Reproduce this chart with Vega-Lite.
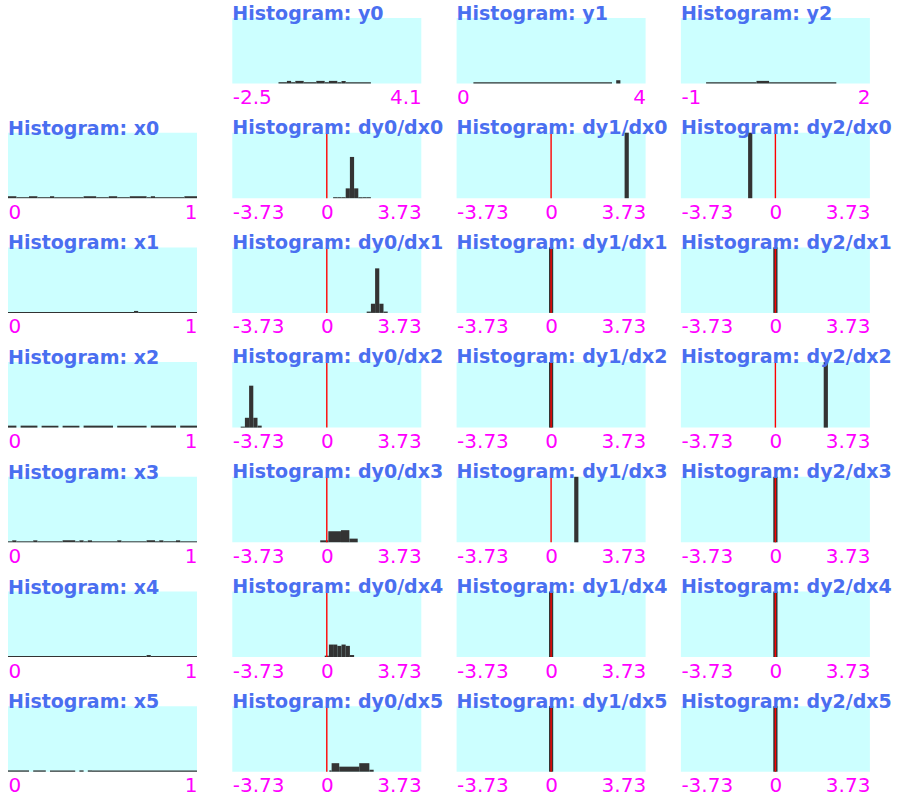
{
"$schema": "https://vega.github.io/schema/vega-lite/v6.json",
"background": "white",
"padding": {"left": 8, "top": 5, "right": 0, "bottom": 0},
"config": {
  "view": {"fill": "#ccffff", "stroke": null, "continuousWidth": 189, "continuousHeight": 65.5},
  "axis": {"domain": false, "ticks": false, "tickSize": 0, "grid": false, "labelFont": "DejaVu Sans", "labelFontSize": 20, "labelColor": "#ff00ff", "labelFlush": true, "labelOverlap": false, "labelPadding": 4, "labelBound": false},
  "title": {"anchor": "start", "frame": "group", "font": "DejaVu Sans", "fontSize": 19, "fontWeight": "bold", "color": "#4a6ff0", "baseline": "alphabetic", "offset": 0, "dy": 10}
},
"datasets": {"h": [
{"p":"y0","a":-0.8867,"b":-0.5933,"f":0.02},{"p":"y0","a":-0.5933,"b":-0.4467,"f":0.04},{"p":"y0","a":-0.4467,"b":-0.3,"f":0.02},{"p":"y0","a":-0.3,"b":-0.0067,"f":0.04},{"p":"y0","a":-0.0067,"b":0.4333,"f":0.02},{"p":"y0","a":0.4333,"b":0.7267,"f":0.04},{"p":"y0","a":0.7267,"b":0.8733,"f":0.02},{"p":"y0","a":0.8733,"b":1.1667,"f":0.04},{"p":"y0","a":1.1667,"b":1.3133,"f":0.02},{"p":"y0","a":1.3133,"b":1.46,"f":0.04},{"p":"y0","a":1.46,"b":2.34,"f":0.02},
{"p":"y1","a":0.3556,"b":3.2889,"f":0.02},{"p":"y1","a":3.3778,"b":3.4667,"f":0.05},
{"p":"y2","a":-0.6,"b":0.2,"f":0.02},{"p":"y2","a":0.2,"b":0.4,"f":0.04},{"p":"y2","a":0.4,"b":1.4667,"f":0.02},
{"p":"x0","a":0,"b":0.0444,"f":0.03},{"p":"x0","a":0.0444,"b":0.1111,"f":0.015},{"p":"x0","a":0.1111,"b":0.1556,"f":0.03},{"p":"x0","a":0.1556,"b":0.2222,"f":0.015},{"p":"x0","a":0.2222,"b":0.2444,"f":0.03},{"p":"x0","a":0.2444,"b":0.4,"f":0.015},{"p":"x0","a":0.4,"b":0.4667,"f":0.03},{"p":"x0","a":0.4667,"b":0.5333,"f":0.015},{"p":"x0","a":0.5333,"b":0.5778,"f":0.03},{"p":"x0","a":0.5778,"b":0.6444,"f":0.015},{"p":"x0","a":0.6444,"b":0.7333,"f":0.03},{"p":"x0","a":0.7333,"b":0.7556,"f":0.015},{"p":"x0","a":0.7556,"b":0.7778,"f":0.03},{"p":"x0","a":0.7778,"b":0.9333,"f":0.015},{"p":"x0","a":0.9333,"b":1,"f":0.03},
{"p":"x1","a":0,"b":0.6667,"f":0.015},{"p":"x1","a":0.6667,"b":0.6889,"f":0.03},{"p":"x1","a":0.6889,"b":1,"f":0.015},
{"p":"x2","a":0,"b":0.0444,"f":0.03},{"p":"x2","a":0.0667,"b":0.1556,"f":0.03},{"p":"x2","a":0.1778,"b":0.2667,"f":0.03},{"p":"x2","a":0.2889,"b":0.3778,"f":0.03},{"p":"x2","a":0.4,"b":0.5556,"f":0.03},{"p":"x2","a":0.5778,"b":0.7333,"f":0.03},{"p":"x2","a":0.7556,"b":0.8889,"f":0.03},{"p":"x2","a":0.9111,"b":1,"f":0.03},
{"p":"x3","a":0,"b":0.0222,"f":0.015},{"p":"x3","a":0.0222,"b":0.0444,"f":0.03},{"p":"x3","a":0.0444,"b":0.1333,"f":0.015},{"p":"x3","a":0.1333,"b":0.1556,"f":0.03},{"p":"x3","a":0.1556,"b":0.2889,"f":0.015},{"p":"x3","a":0.2889,"b":0.3556,"f":0.03},{"p":"x3","a":0.3556,"b":0.3778,"f":0.015},{"p":"x3","a":0.3778,"b":0.4,"f":0.03},{"p":"x3","a":0.4,"b":0.4222,"f":0.015},{"p":"x3","a":0.4222,"b":0.4444,"f":0.03},{"p":"x3","a":0.4444,"b":0.5778,"f":0.015},{"p":"x3","a":0.5778,"b":0.6,"f":0.03},{"p":"x3","a":0.6,"b":0.7333,"f":0.015},{"p":"x3","a":0.7333,"b":0.7778,"f":0.03},{"p":"x3","a":0.7778,"b":0.8,"f":0.015},{"p":"x3","a":0.8,"b":0.8222,"f":0.03},{"p":"x3","a":0.8222,"b":0.8889,"f":0.015},{"p":"x3","a":0.8889,"b":0.9111,"f":0.03},{"p":"x3","a":0.9111,"b":1,"f":0.015},
{"p":"x4","a":0,"b":0.7333,"f":0.015},{"p":"x4","a":0.7333,"b":0.7556,"f":0.03},{"p":"x4","a":0.7556,"b":1,"f":0.015},
{"p":"x5","a":0,"b":0.1111,"f":0.02},{"p":"x5","a":0.1333,"b":0.2,"f":0.02},{"p":"x5","a":0.2222,"b":0.3556,"f":0.02},{"p":"x5","a":0.3778,"b":0.4,"f":0.02},{"p":"x5","a":0.4222,"b":0.4444,"f":0.02},{"p":"x5","a":0.4444,"b":1,"f":0.02},
{"p":"dy0/dx0","a":0.2487,"b":0.4144,"f":0.015},{"p":"dy0/dx0","a":0.4144,"b":0.5802,"f":0.015},{"p":"dy0/dx0","a":0.5802,"b":0.746,"f":0.015},{"p":"dy0/dx0","a":0.746,"b":0.9118,"f":0.15},{"p":"dy0/dx0","a":0.9118,"b":1.0776,"f":0.63},{"p":"dy0/dx0","a":1.0776,"b":1.2433,"f":0.15},{"p":"dy0/dx0","a":1.2433,"b":1.4091,"f":0.015},{"p":"dy0/dx0","a":1.4091,"b":1.5749,"f":0.015},{"p":"dy0/dx0","a":1.5749,"b":1.7407,"f":0.015},
{"p":"dy1/dx0","a":2.9011,"b":3.0669,"f":1},
{"p":"dy2/dx0","a":-1.0776,"b":-0.9118,"f":1},
{"p":"dy0/dx1","a":1.5749,"b":1.7407,"f":0.02},{"p":"dy0/dx1","a":1.7407,"b":1.9064,"f":0.14},{"p":"dy0/dx1","a":1.9064,"b":2.0722,"f":0.68},{"p":"dy0/dx1","a":2.0722,"b":2.238,"f":0.14},{"p":"dy0/dx1","a":2.238,"b":2.4038,"f":0.02},
{"p":"dy1/dx1","a":-0.0829,"b":0.0829,"f":1},
{"p":"dy2/dx1","a":-0.0829,"b":0.0829,"f":1},
{"p":"dy0/dx2","a":-3.3984,"b":-3.2327,"f":0.015},{"p":"dy0/dx2","a":-3.2327,"b":-3.0669,"f":0.15},{"p":"dy0/dx2","a":-3.0669,"b":-2.9011,"f":0.64},{"p":"dy0/dx2","a":-2.9011,"b":-2.7353,"f":0.15},{"p":"dy0/dx2","a":-2.7353,"b":-2.5696,"f":0.03},
{"p":"dy1/dx2","a":-0.0829,"b":0.0829,"f":1},
{"p":"dy2/dx2","a":1.9064,"b":2.0722,"f":1},
{"p":"dy0/dx3","a":-0.26,"b":0.06,"f":0.03},{"p":"dy0/dx3","a":0.06,"b":0.56,"f":0.168},{"p":"dy0/dx3","a":0.56,"b":0.89,"f":0.185},{"p":"dy0/dx3","a":0.89,"b":1.22,"f":0.056},
{"p":"dy1/dx3","a":0.9118,"b":1.0776,"f":1},
{"p":"dy2/dx3","a":-0.0829,"b":0.0829,"f":1},
{"p":"dy0/dx4","a":-0.0829,"b":0.0829,"f":0.02},{"p":"dy0/dx4","a":0.0829,"b":0.2487,"f":0.19},{"p":"dy0/dx4","a":0.2487,"b":0.4144,"f":0.19},{"p":"dy0/dx4","a":0.4144,"b":0.5802,"f":0.17},{"p":"dy0/dx4","a":0.5802,"b":0.746,"f":0.19},{"p":"dy0/dx4","a":0.746,"b":0.9118,"f":0.17},{"p":"dy0/dx4","a":0.9118,"b":1.0776,"f":0.03},
{"p":"dy1/dx4","a":-0.0829,"b":0.0829,"f":1},
{"p":"dy2/dx4","a":-0.0829,"b":0.0829,"f":1},
{"p":"dy0/dx5","a":0.1,"b":0.19,"f":0.02},{"p":"dy0/dx5","a":0.19,"b":0.49,"f":0.13},{"p":"dy0/dx5","a":0.49,"b":1.28,"f":0.077},{"p":"dy0/dx5","a":1.28,"b":1.68,"f":0.13},{"p":"dy0/dx5","a":1.68,"b":1.85,"f":0.03},
{"p":"dy1/dx5","a":-0.0829,"b":0.0829,"f":1},
{"p":"dy2/dx5","a":-0.0829,"b":0.0829,"f":1}
]},
"data": {"name": "h"},
"columns": 4,
"bounds": "flush",
"spacing": {"row": 48.7, "column": 35.3},
"concat": [
{"width": 189, "height": 65.5, "data": {"values": []}, "mark": "point", "view": {"fill": null, "stroke": null}},
{"title": "Histogram: y0", "transform": [{"filter": "datum.p === 'y0'"}], "mark": {"type": "rect", "color": "#333333"}, "encoding": {"x": {"field": "a", "type": "quantitative", "title": null, "scale": {"domain": [-2.5, 4.1], "nice": false}, "axis": {"values": [-2.5, 4.1], "labelExpr": "'' + datum.value"}}, "x2": {"field": "b"}, "y": {"field": "f", "type": "quantitative", "scale": {"domain": [0, 1]}, "axis": null}, "y2": {"datum": 0}}},
{"title": "Histogram: y1", "transform": [{"filter": "datum.p === 'y1'"}], "mark": {"type": "rect", "color": "#333333"}, "encoding": {"x": {"field": "a", "type": "quantitative", "title": null, "scale": {"domain": [0, 4], "nice": false}, "axis": {"values": [0, 4], "labelExpr": "'' + datum.value"}}, "x2": {"field": "b"}, "y": {"field": "f", "type": "quantitative", "scale": {"domain": [0, 1]}, "axis": null}, "y2": {"datum": 0}}},
{"title": "Histogram: y2", "transform": [{"filter": "datum.p === 'y2'"}], "mark": {"type": "rect", "color": "#333333"}, "encoding": {"x": {"field": "a", "type": "quantitative", "title": null, "scale": {"domain": [-1, 2], "nice": false}, "axis": {"values": [-1, 2], "labelExpr": "'' + datum.value"}}, "x2": {"field": "b"}, "y": {"field": "f", "type": "quantitative", "scale": {"domain": [0, 1]}, "axis": null}, "y2": {"datum": 0}}},

{"title": "Histogram: x0", "transform": [{"filter": "datum.p === 'x0'"}], "mark": {"type": "rect", "color": "#333333"}, "encoding": {"x": {"field": "a", "type": "quantitative", "title": null, "scale": {"domain": [0, 1], "nice": false}, "axis": {"values": [0, 1], "labelExpr": "'' + datum.value"}}, "x2": {"field": "b"}, "y": {"field": "f", "type": "quantitative", "scale": {"domain": [0, 1]}, "axis": null}, "y2": {"datum": 0}}},
{"title": "Histogram: dy0/dx0", "layer": [{"transform": [{"filter": "datum.p === 'dy0/dx0'"}], "mark": {"type": "rect", "color": "#333333"}, "encoding": {"x": {"field": "a", "type": "quantitative", "title": null, "scale": {"domain": [-3.73, 3.73], "nice": false}, "axis": {"values": [-3.73, 0, 3.73], "labelExpr": "'' + datum.value"}}, "x2": {"field": "b"}, "y": {"field": "f", "type": "quantitative", "scale": {"domain": [0, 1]}, "axis": null}, "y2": {"datum": 0}}}, {"data": {"values": [{}]}, "mark": {"type": "rule", "color": "#ff0000", "strokeWidth": 1.4}, "encoding": {"x": {"datum": 0, "type": "quantitative"}}}]},
{"title": "Histogram: dy1/dx0", "layer": [{"transform": [{"filter": "datum.p === 'dy1/dx0'"}], "mark": {"type": "rect", "color": "#333333"}, "encoding": {"x": {"field": "a", "type": "quantitative", "title": null, "scale": {"domain": [-3.73, 3.73], "nice": false}, "axis": {"values": [-3.73, 0, 3.73], "labelExpr": "'' + datum.value"}}, "x2": {"field": "b"}, "y": {"field": "f", "type": "quantitative", "scale": {"domain": [0, 1]}, "axis": null}, "y2": {"datum": 0}}}, {"data": {"values": [{}]}, "mark": {"type": "rule", "color": "#ff0000", "strokeWidth": 1.4}, "encoding": {"x": {"datum": 0, "type": "quantitative"}}}]},
{"title": "Histogram: dy2/dx0", "layer": [{"transform": [{"filter": "datum.p === 'dy2/dx0'"}], "mark": {"type": "rect", "color": "#333333"}, "encoding": {"x": {"field": "a", "type": "quantitative", "title": null, "scale": {"domain": [-3.73, 3.73], "nice": false}, "axis": {"values": [-3.73, 0, 3.73], "labelExpr": "'' + datum.value"}}, "x2": {"field": "b"}, "y": {"field": "f", "type": "quantitative", "scale": {"domain": [0, 1]}, "axis": null}, "y2": {"datum": 0}}}, {"data": {"values": [{}]}, "mark": {"type": "rule", "color": "#ff0000", "strokeWidth": 1.4}, "encoding": {"x": {"datum": 0, "type": "quantitative"}}}]},

{"title": "Histogram: x1", "transform": [{"filter": "datum.p === 'x1'"}], "mark": {"type": "rect", "color": "#333333"}, "encoding": {"x": {"field": "a", "type": "quantitative", "title": null, "scale": {"domain": [0, 1], "nice": false}, "axis": {"values": [0, 1], "labelExpr": "'' + datum.value"}}, "x2": {"field": "b"}, "y": {"field": "f", "type": "quantitative", "scale": {"domain": [0, 1]}, "axis": null}, "y2": {"datum": 0}}},
{"title": "Histogram: dy0/dx1", "layer": [{"transform": [{"filter": "datum.p === 'dy0/dx1'"}], "mark": {"type": "rect", "color": "#333333"}, "encoding": {"x": {"field": "a", "type": "quantitative", "title": null, "scale": {"domain": [-3.73, 3.73], "nice": false}, "axis": {"values": [-3.73, 0, 3.73], "labelExpr": "'' + datum.value"}}, "x2": {"field": "b"}, "y": {"field": "f", "type": "quantitative", "scale": {"domain": [0, 1]}, "axis": null}, "y2": {"datum": 0}}}, {"data": {"values": [{}]}, "mark": {"type": "rule", "color": "#ff0000", "strokeWidth": 1.4}, "encoding": {"x": {"datum": 0, "type": "quantitative"}}}]},
{"title": "Histogram: dy1/dx1", "layer": [{"transform": [{"filter": "datum.p === 'dy1/dx1'"}], "mark": {"type": "rect", "color": "#333333"}, "encoding": {"x": {"field": "a", "type": "quantitative", "title": null, "scale": {"domain": [-3.73, 3.73], "nice": false}, "axis": {"values": [-3.73, 0, 3.73], "labelExpr": "'' + datum.value"}}, "x2": {"field": "b"}, "y": {"field": "f", "type": "quantitative", "scale": {"domain": [0, 1]}, "axis": null}, "y2": {"datum": 0}}}, {"data": {"values": [{}]}, "mark": {"type": "rule", "color": "#ff0000", "strokeWidth": 1.4}, "encoding": {"x": {"datum": 0, "type": "quantitative"}}}]},
{"title": "Histogram: dy2/dx1", "layer": [{"transform": [{"filter": "datum.p === 'dy2/dx1'"}], "mark": {"type": "rect", "color": "#333333"}, "encoding": {"x": {"field": "a", "type": "quantitative", "title": null, "scale": {"domain": [-3.73, 3.73], "nice": false}, "axis": {"values": [-3.73, 0, 3.73], "labelExpr": "'' + datum.value"}}, "x2": {"field": "b"}, "y": {"field": "f", "type": "quantitative", "scale": {"domain": [0, 1]}, "axis": null}, "y2": {"datum": 0}}}, {"data": {"values": [{}]}, "mark": {"type": "rule", "color": "#ff0000", "strokeWidth": 1.4}, "encoding": {"x": {"datum": 0, "type": "quantitative"}}}]},

{"title": "Histogram: x2", "transform": [{"filter": "datum.p === 'x2'"}], "mark": {"type": "rect", "color": "#333333"}, "encoding": {"x": {"field": "a", "type": "quantitative", "title": null, "scale": {"domain": [0, 1], "nice": false}, "axis": {"values": [0, 1], "labelExpr": "'' + datum.value"}}, "x2": {"field": "b"}, "y": {"field": "f", "type": "quantitative", "scale": {"domain": [0, 1]}, "axis": null}, "y2": {"datum": 0}}},
{"title": "Histogram: dy0/dx2", "layer": [{"transform": [{"filter": "datum.p === 'dy0/dx2'"}], "mark": {"type": "rect", "color": "#333333"}, "encoding": {"x": {"field": "a", "type": "quantitative", "title": null, "scale": {"domain": [-3.73, 3.73], "nice": false}, "axis": {"values": [-3.73, 0, 3.73], "labelExpr": "'' + datum.value"}}, "x2": {"field": "b"}, "y": {"field": "f", "type": "quantitative", "scale": {"domain": [0, 1]}, "axis": null}, "y2": {"datum": 0}}}, {"data": {"values": [{}]}, "mark": {"type": "rule", "color": "#ff0000", "strokeWidth": 1.4}, "encoding": {"x": {"datum": 0, "type": "quantitative"}}}]},
{"title": "Histogram: dy1/dx2", "layer": [{"transform": [{"filter": "datum.p === 'dy1/dx2'"}], "mark": {"type": "rect", "color": "#333333"}, "encoding": {"x": {"field": "a", "type": "quantitative", "title": null, "scale": {"domain": [-3.73, 3.73], "nice": false}, "axis": {"values": [-3.73, 0, 3.73], "labelExpr": "'' + datum.value"}}, "x2": {"field": "b"}, "y": {"field": "f", "type": "quantitative", "scale": {"domain": [0, 1]}, "axis": null}, "y2": {"datum": 0}}}, {"data": {"values": [{}]}, "mark": {"type": "rule", "color": "#ff0000", "strokeWidth": 1.4}, "encoding": {"x": {"datum": 0, "type": "quantitative"}}}]},
{"title": "Histogram: dy2/dx2", "layer": [{"transform": [{"filter": "datum.p === 'dy2/dx2'"}], "mark": {"type": "rect", "color": "#333333"}, "encoding": {"x": {"field": "a", "type": "quantitative", "title": null, "scale": {"domain": [-3.73, 3.73], "nice": false}, "axis": {"values": [-3.73, 0, 3.73], "labelExpr": "'' + datum.value"}}, "x2": {"field": "b"}, "y": {"field": "f", "type": "quantitative", "scale": {"domain": [0, 1]}, "axis": null}, "y2": {"datum": 0}}}, {"data": {"values": [{}]}, "mark": {"type": "rule", "color": "#ff0000", "strokeWidth": 1.4}, "encoding": {"x": {"datum": 0, "type": "quantitative"}}}]},

{"title": "Histogram: x3", "transform": [{"filter": "datum.p === 'x3'"}], "mark": {"type": "rect", "color": "#333333"}, "encoding": {"x": {"field": "a", "type": "quantitative", "title": null, "scale": {"domain": [0, 1], "nice": false}, "axis": {"values": [0, 1], "labelExpr": "'' + datum.value"}}, "x2": {"field": "b"}, "y": {"field": "f", "type": "quantitative", "scale": {"domain": [0, 1]}, "axis": null}, "y2": {"datum": 0}}},
{"title": "Histogram: dy0/dx3", "layer": [{"transform": [{"filter": "datum.p === 'dy0/dx3'"}], "mark": {"type": "rect", "color": "#333333"}, "encoding": {"x": {"field": "a", "type": "quantitative", "title": null, "scale": {"domain": [-3.73, 3.73], "nice": false}, "axis": {"values": [-3.73, 0, 3.73], "labelExpr": "'' + datum.value"}}, "x2": {"field": "b"}, "y": {"field": "f", "type": "quantitative", "scale": {"domain": [0, 1]}, "axis": null}, "y2": {"datum": 0}}}, {"data": {"values": [{}]}, "mark": {"type": "rule", "color": "#ff0000", "strokeWidth": 1.4}, "encoding": {"x": {"datum": 0, "type": "quantitative"}}}]},
{"title": "Histogram: dy1/dx3", "layer": [{"transform": [{"filter": "datum.p === 'dy1/dx3'"}], "mark": {"type": "rect", "color": "#333333"}, "encoding": {"x": {"field": "a", "type": "quantitative", "title": null, "scale": {"domain": [-3.73, 3.73], "nice": false}, "axis": {"values": [-3.73, 0, 3.73], "labelExpr": "'' + datum.value"}}, "x2": {"field": "b"}, "y": {"field": "f", "type": "quantitative", "scale": {"domain": [0, 1]}, "axis": null}, "y2": {"datum": 0}}}, {"data": {"values": [{}]}, "mark": {"type": "rule", "color": "#ff0000", "strokeWidth": 1.4}, "encoding": {"x": {"datum": 0, "type": "quantitative"}}}]},
{"title": "Histogram: dy2/dx3", "layer": [{"transform": [{"filter": "datum.p === 'dy2/dx3'"}], "mark": {"type": "rect", "color": "#333333"}, "encoding": {"x": {"field": "a", "type": "quantitative", "title": null, "scale": {"domain": [-3.73, 3.73], "nice": false}, "axis": {"values": [-3.73, 0, 3.73], "labelExpr": "'' + datum.value"}}, "x2": {"field": "b"}, "y": {"field": "f", "type": "quantitative", "scale": {"domain": [0, 1]}, "axis": null}, "y2": {"datum": 0}}}, {"data": {"values": [{}]}, "mark": {"type": "rule", "color": "#ff0000", "strokeWidth": 1.4}, "encoding": {"x": {"datum": 0, "type": "quantitative"}}}]},

{"title": "Histogram: x4", "transform": [{"filter": "datum.p === 'x4'"}], "mark": {"type": "rect", "color": "#333333"}, "encoding": {"x": {"field": "a", "type": "quantitative", "title": null, "scale": {"domain": [0, 1], "nice": false}, "axis": {"values": [0, 1], "labelExpr": "'' + datum.value"}}, "x2": {"field": "b"}, "y": {"field": "f", "type": "quantitative", "scale": {"domain": [0, 1]}, "axis": null}, "y2": {"datum": 0}}},
{"title": "Histogram: dy0/dx4", "layer": [{"transform": [{"filter": "datum.p === 'dy0/dx4'"}], "mark": {"type": "rect", "color": "#333333"}, "encoding": {"x": {"field": "a", "type": "quantitative", "title": null, "scale": {"domain": [-3.73, 3.73], "nice": false}, "axis": {"values": [-3.73, 0, 3.73], "labelExpr": "'' + datum.value"}}, "x2": {"field": "b"}, "y": {"field": "f", "type": "quantitative", "scale": {"domain": [0, 1]}, "axis": null}, "y2": {"datum": 0}}}, {"data": {"values": [{}]}, "mark": {"type": "rule", "color": "#ff0000", "strokeWidth": 1.4}, "encoding": {"x": {"datum": 0, "type": "quantitative"}}}]},
{"title": "Histogram: dy1/dx4", "layer": [{"transform": [{"filter": "datum.p === 'dy1/dx4'"}], "mark": {"type": "rect", "color": "#333333"}, "encoding": {"x": {"field": "a", "type": "quantitative", "title": null, "scale": {"domain": [-3.73, 3.73], "nice": false}, "axis": {"values": [-3.73, 0, 3.73], "labelExpr": "'' + datum.value"}}, "x2": {"field": "b"}, "y": {"field": "f", "type": "quantitative", "scale": {"domain": [0, 1]}, "axis": null}, "y2": {"datum": 0}}}, {"data": {"values": [{}]}, "mark": {"type": "rule", "color": "#ff0000", "strokeWidth": 1.4}, "encoding": {"x": {"datum": 0, "type": "quantitative"}}}]},
{"title": "Histogram: dy2/dx4", "layer": [{"transform": [{"filter": "datum.p === 'dy2/dx4'"}], "mark": {"type": "rect", "color": "#333333"}, "encoding": {"x": {"field": "a", "type": "quantitative", "title": null, "scale": {"domain": [-3.73, 3.73], "nice": false}, "axis": {"values": [-3.73, 0, 3.73], "labelExpr": "'' + datum.value"}}, "x2": {"field": "b"}, "y": {"field": "f", "type": "quantitative", "scale": {"domain": [0, 1]}, "axis": null}, "y2": {"datum": 0}}}, {"data": {"values": [{}]}, "mark": {"type": "rule", "color": "#ff0000", "strokeWidth": 1.4}, "encoding": {"x": {"datum": 0, "type": "quantitative"}}}]},

{"title": "Histogram: x5", "transform": [{"filter": "datum.p === 'x5'"}], "mark": {"type": "rect", "color": "#333333"}, "encoding": {"x": {"field": "a", "type": "quantitative", "title": null, "scale": {"domain": [0, 1], "nice": false}, "axis": {"values": [0, 1], "labelExpr": "'' + datum.value"}}, "x2": {"field": "b"}, "y": {"field": "f", "type": "quantitative", "scale": {"domain": [0, 1]}, "axis": null}, "y2": {"datum": 0}}},
{"title": "Histogram: dy0/dx5", "layer": [{"transform": [{"filter": "datum.p === 'dy0/dx5'"}], "mark": {"type": "rect", "color": "#333333"}, "encoding": {"x": {"field": "a", "type": "quantitative", "title": null, "scale": {"domain": [-3.73, 3.73], "nice": false}, "axis": {"values": [-3.73, 0, 3.73], "labelExpr": "'' + datum.value"}}, "x2": {"field": "b"}, "y": {"field": "f", "type": "quantitative", "scale": {"domain": [0, 1]}, "axis": null}, "y2": {"datum": 0}}}, {"data": {"values": [{}]}, "mark": {"type": "rule", "color": "#ff0000", "strokeWidth": 1.4}, "encoding": {"x": {"datum": 0, "type": "quantitative"}}}]},
{"title": "Histogram: dy1/dx5", "layer": [{"transform": [{"filter": "datum.p === 'dy1/dx5'"}], "mark": {"type": "rect", "color": "#333333"}, "encoding": {"x": {"field": "a", "type": "quantitative", "title": null, "scale": {"domain": [-3.73, 3.73], "nice": false}, "axis": {"values": [-3.73, 0, 3.73], "labelExpr": "'' + datum.value"}}, "x2": {"field": "b"}, "y": {"field": "f", "type": "quantitative", "scale": {"domain": [0, 1]}, "axis": null}, "y2": {"datum": 0}}}, {"data": {"values": [{}]}, "mark": {"type": "rule", "color": "#ff0000", "strokeWidth": 1.4}, "encoding": {"x": {"datum": 0, "type": "quantitative"}}}]},
{"title": "Histogram: dy2/dx5", "layer": [{"transform": [{"filter": "datum.p === 'dy2/dx5'"}], "mark": {"type": "rect", "color": "#333333"}, "encoding": {"x": {"field": "a", "type": "quantitative", "title": null, "scale": {"domain": [-3.73, 3.73], "nice": false}, "axis": {"values": [-3.73, 0, 3.73], "labelExpr": "'' + datum.value"}}, "x2": {"field": "b"}, "y": {"field": "f", "type": "quantitative", "scale": {"domain": [0, 1]}, "axis": null}, "y2": {"datum": 0}}}, {"data": {"values": [{}]}, "mark": {"type": "rule", "color": "#ff0000", "strokeWidth": 1.4}, "encoding": {"x": {"datum": 0, "type": "quantitative"}}}]}
]
}
